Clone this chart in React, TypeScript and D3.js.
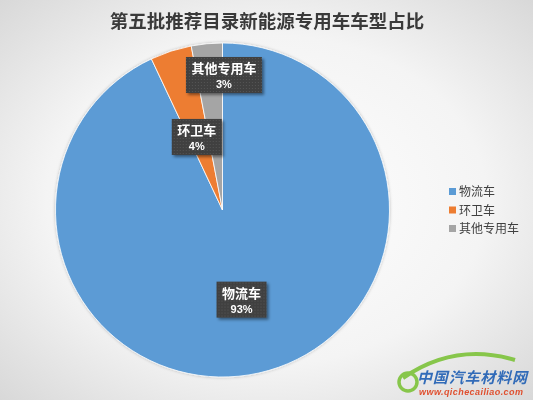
import React from "react";
import * as d3 from "d3";

const title = "第五批推荐目录新能源专用车车型占比";
const categories = ["物流车", "环卫车", "其他专用车"];
const values = [93, 4, 3];
const colors = ["#5B9BD5", "#ED7D31", "#A5A5A5"];

const W = 533;
const H = 400;
const cx = 222.5;
const cy = 210;
const R = 167;

// label layout (radius fraction, extra offsets) per slice
const labelLayout = [
  { r: 0.55, dx: -1, dy: 0 },
  { r: 0.46, dx: -2, dy: 0 },
  { r: 0.8, dx: 14, dy: -2 },
];

export default function App() {
  const pie = d3.pie<number>().sort(null).value((d) => d)
    .startAngle(0).endAngle(2 * Math.PI);
  const arcs = pie(values);
  const arc = d3.arc<d3.PieArcDatum<number>>().innerRadius(0).outerRadius(R);
  const total = d3.sum(values);
  const fmt = d3.format(".0%");

  const font = "'Noto Sans CJK SC', 'Microsoft YaHei', sans-serif";

  return (
    <svg width={W} height={H} style={{ position: "fixed", left: 0, top: 0 }}
      fontFamily={font}>
      <defs>
        <radialGradient id="bg" cx="50%" cy="50%" r="75%">
          <stop offset="0%" stopColor="#ffffff" />
          <stop offset="55%" stopColor="#f4f4f4" />
          <stop offset="100%" stopColor="#d4d4d4" />
        </radialGradient>
        <pattern id="dots" width="3" height="3" patternUnits="userSpaceOnUse">
          <rect width="3" height="3" fill="#404040" />
          <rect x="1" y="1" width="1" height="1" fill="#555" />
        </pattern>
        <filter id="sh" x="-20%" y="-20%" width="150%" height="150%">
          <feDropShadow dx="2" dy="2" stdDeviation="1.5" floodColor="#000" floodOpacity="0.45" />
        </filter>
        <filter id="pieSh" x="-10%" y="-10%" width="120%" height="120%">
          <feDropShadow dx="0" dy="0" stdDeviation="1.5" floodColor="#000" floodOpacity="0.25" />
        </filter>
      </defs>
      <rect width={W} height={H} fill="url(#bg)" />
      <text x={267} y={28} textAnchor="middle" fontSize={18.5} fontWeight="bold"
        fill="#3a3a3a" fontFamily="'Noto Sans CJK SC', serif">{title}</text>

      <g transform={`translate(${cx},${cy})`} filter="url(#pieSh)">
        {arcs.map((a, i) => (
          <path key={i} d={arc(a) || ""} fill={colors[i]} stroke="#fff" strokeWidth={0.8} />
        ))}
      </g>

      <g transform={`translate(${cx},${cy})`}>
        {arcs.map((a, i) => {
          const lay = labelLayout[i];
          const la = d3.arc<d3.PieArcDatum<number>>()
            .innerRadius(R * lay.r).outerRadius(R * lay.r);
          const [x0, y0] = la.centroid(a);
          const x = x0 + lay.dx;
          const y = y0 + lay.dy;
          const name = categories[i];
          const bw = name.length * 13 + 11;
          const bh = 36;
          return (
            <g key={i} transform={`translate(${x},${y})`}>
              <rect x={-bw / 2} y={-bh / 2} width={bw} height={bh}
                fill="url(#dots)" filter="url(#sh)" />
              <text x={0} y={-2} textAnchor="middle" fontSize={13} fontWeight="bold"
                fill="#fff">{name}</text>
              <text x={0} y={13} textAnchor="middle" fontSize={11} fontWeight="bold"
                fill="#fff" fontFamily="Arial, 'Liberation Sans', sans-serif">{fmt(values[i] / total)}</text>
            </g>
          );
        })}
      </g>

      <g transform="translate(449,186)">
        {categories.map((c, i) => (
          <g key={i} transform={`translate(0,${i * 18.5})`}>
            <rect x={0} y={2} width={7} height={7} fill={colors[i]} />
            <text x={10} y={10} fontSize={12} fill="#404040">{c}</text>
          </g>
        ))}
      </g>

      <g transform="translate(395,352)" opacity={0.9}>
        <path d="M 8 26 Q 60 -10 120 8" fill="none" stroke="#7dc33a" strokeWidth={4} />
        <circle cx={13} cy={30} r={9} fill="none" stroke="#7dc33a" strokeWidth={3.5} />
        <text x={22} y={31} fontSize={15} fontWeight="bold" fill="#1f5fb4"
          fontStyle="italic" textLength={110}>中国汽车材料网</text>
        <text x={24} y={43} fontSize={9} fontWeight="bold" fill="#e0401c"
          fontStyle="italic" fontFamily="Arial, sans-serif" textLength={104}>www.qichecailiao.com</text>
      </g>
    </svg>
  );
}
